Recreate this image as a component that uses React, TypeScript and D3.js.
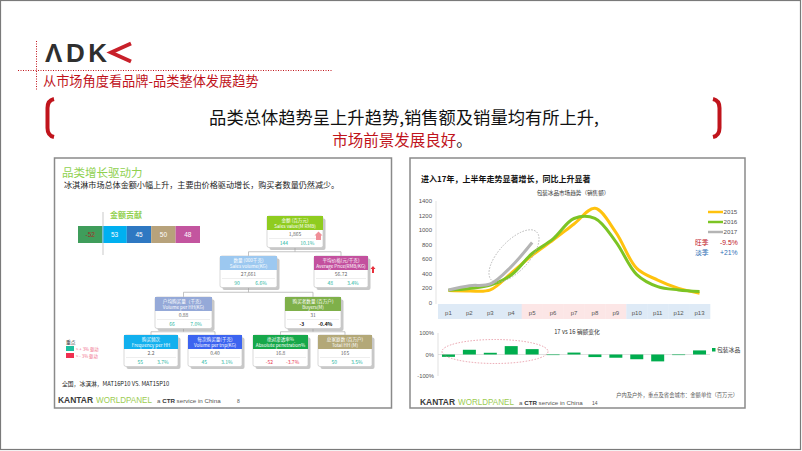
import React from 'react';
import * as d3 from 'd3';

// ---------- data ----------
const periods = ['p1','p2','p3','p4','p5','p6','p7','p8','p9','p10','p11','p12','p13'];
const season = ['淡','淡','淡','淡','旺','旺','旺','旺','旺','淡','淡','淡','淡'];
const sales2015 = [170,165,180,410,655,865,1085,1300,970,475,315,200,135];
const sales2016 = [175,200,245,385,680,880,1160,1160,840,390,225,180,158];
const sales2017 = [178,238,262,500,830];
const yTicks = [0,200,400,600,800,1000,1200,1400];
const changePct = [-11,22,8,39,25,-1,9,-12,-15,-22,-32,-2,19];
const pctTicks = [100,0,-100];
const contribLabels = ['-52','53','45','50','48'];
const contribColors = ['#3f9d5b','#00b0f0','#2e78c2','#b7a27b','#c3559f'];

type Node = { t1: string; t2: string; value: string; n1: string; n2: string; color: string; numColor: string };
const treeTop: Node = { t1: '金额 (百万元)', t2: 'Sales value(M RMB)', value: '1,865', n1: '144', n2: '10.1%', color: '#8fcc1f', numColor: '#1fb5a0' };
const treeL2: Node[] = [
  { t1: '数量 (000千克)', t2: 'Sales volume(KG)', value: '27,661', n1: '90', n2: '6.6%', color: '#9cc8f0', numColor: '#1fb5a0' },
  { t1: '平均价格(元/千克)', t2: 'Average Price(RMB/KG)', value: '56.72', n1: '48', n2: '3.4%', color: '#c3509e', numColor: '#1fb5a0' },
];
const treeL3: Node[] = [
  { t1: '户均购买量（千克）', t2: 'Volume per HH(KG)', value: '0.88', n1: '66', n2: '7.0%', color: '#95a9d8', numColor: '#1fb5a0' },
  { t1: '购买者数量 (百万户)', t2: 'Buyers(M)', value: '31', n1: '-3', n2: '-0.4%', color: '#7fb04a', numColor: '#111' },
];
const treeL4: Node[] = [
  { t1: '购买频次', t2: 'Frequency per HH', value: '2.2', n1: '55', n2: '3.7%', color: '#12b0ee', numColor: '#1fb5a0' },
  { t1: '每次购买量(千克)', t2: 'Volume per trip(KG)', value: '0.40', n1: '45', n2: '3.1%', color: '#3c64f0', numColor: '#1fb5a0' },
  { t1: '绝对渗透率%', t2: 'Absolute penetration%', value: '16.8', n1: '-52', n2: '-3.7%', color: '#16a84a', numColor: '#e8344e' },
  { t1: '总家庭数 (百万户)', t2: 'Total HH (M)', value: '165', n1: '50', n2: '3.5%', color: '#b3a878', numColor: '#1fb5a0' },
];

const F = "'Noto Sans CJK SC', 'Noto Sans', sans-serif";
const FL = "'Liberation Sans', Arial, sans-serif";
const RED = '#c0141c';

function TreeBox({ n, x, y, w }: { n: Node; x: number; y: number; w: number }) {
  const hh = 14, vr = 8.5, nr = 9;
  const h = hh + vr + nr;
  const bold = n.numColor === '#111';
  return (
    <g>
      <rect x={x + 2.5} y={y + 2.5} width={w} height={h} rx={2} fill="#9a9a9a" opacity={0.55} />
      <rect x={x} y={y} width={w} height={h} rx={2} fill="#fff" stroke="#c8c8c8" strokeWidth={0.7} />
      <rect x={x} y={y} width={w} height={hh} fill={n.color} />
      <text x={x + w / 2} y={y + 6} fontSize={4.6} fill="#fff" textAnchor="middle" fontFamily={F}>{n.t1}</text>
      <text x={x + w / 2} y={y + 11.8} fontSize={4.6} fill="#fff" textAnchor="middle" fontFamily={F}>{n.t2}</text>
      <text x={x + w / 2} y={y + hh + 6.3} fontSize={5} fill="#666" textAnchor="middle" fontFamily={F}>{n.value}</text>
      <line x1={x + 2} x2={x + w - 2} y1={y + hh + vr} y2={y + hh + vr} stroke="#ddd" strokeWidth={0.5} />
      <text x={x + w * 0.3} y={y + hh + vr + 6.3} fontSize={5} fill={n.numColor} fontWeight={bold ? 700 : 400} textAnchor="middle" fontFamily={F}>{n.n1}</text>
      <text x={x + w * 0.72} y={y + hh + vr + 6.3} fontSize={5} fill={n.numColor} fontWeight={bold ? 700 : 400} textAnchor="middle" fontFamily={F}>{n.n2}</text>
    </g>
  );
}

function Kantar({ x, y, page, px }: { x: number; y: number; page: string; px: number }) {
  return (
    <g fontFamily={FL}>
      <text x={x} y={y} fontSize={9} fontWeight={700} fill="#3a3a3a" textLength={35} lengthAdjust="spacingAndGlyphs">KANTAR</text>
      <text x={x + 38} y={y} fontSize={9} fill="#9ccc52" textLength={56} lengthAdjust="spacingAndGlyphs">WORLDPANEL</text>
      <text x={x + 99} y={y} fontSize={6.2} fill="#555">a <tspan fontWeight={700} fill="#333">CTR</tspan> service in China</text>
      <text x={px} y={y} fontSize={5} fill="#555">{page}</text>
    </g>
  );
}

export default function App() {
  // top chart
  const xb = d3.scaleBand<string>().domain(periods).range([438, 710]).padding(0);
  const cx = (i: number) => (xb(periods[i]) as number) + xb.bandwidth() / 2;
  const y = d3.scaleLinear().domain([0, 1400]).range([303, 201]);
  const line = d3.line<number>().x((_, i) => cx(i)).y((d) => y(d)).curve(d3.curveCatmullRom.alpha(0.5));
  // bottom chart
  const yp = d3.scaleLinear().domain([-100, 100]).range([376, 333]);
  // contribution bar
  const cb = d3.scaleBand<number>().domain(contribLabels.map((_, i) => i)).range([78, 200]);

  // tree layout
  const L1 = { x: 267, y: 216, w: 56 };
  const L2 = [{ x: 220, w: 57 }, { x: 314, w: 54 }];
  const L3 = [{ x: 155, w: 57 }, { x: 285, w: 56 }];
  const L4 = [{ x: 124, w: 54 }, { x: 188, w: 54 }, { x: 253, w: 55 }, { x: 318, w: 54 }];
  const y2 = 256, y3 = 297, y4 = 335, bh = 31.5;
  const mid = (b: { x: number; w: number }) => b.x + b.w / 2;
  const conn = (px: number, py: number, kids: number[], ky: number) => {
    const my = (py + ky) / 2;
    return (
      <g stroke="#aaa" strokeWidth={0.7} fill="none">
        <line x1={px} x2={px} y1={py} y2={my} />
        <line x1={Math.min(...kids)} x2={Math.max(...kids)} y1={my} y2={my} />
        {kids.map((k, i) => <line key={i} x1={k} x2={k} y1={my} y2={ky} />)}
      </g>
    );
  };

  return (
    <svg width={802} height={451} style={{ position: 'absolute', left: 0, top: 0, background: '#fff' }}>
      <rect x={0.5} y={0.5} width={800} height={449} fill="#fff" stroke="#7a7a7a" strokeWidth={1.2} />
      {/* header */}
      <line x1={36.5} x2={36.5} y1={41} y2={91} stroke={RED} strokeDasharray="1,1.5" strokeWidth={1} />
      <line x1={18} x2={332} y1={70.5} y2={70.5} stroke={RED} strokeDasharray="1,1.5" strokeWidth={1} />
      <text x={45} y={62} fontSize={26} fontWeight={700} fill="#2f2f2f" fontFamily={FL} textLength={62} lengthAdjust="spacing">ΛDK</text>
      <path d="M131,43.5 L111,52.5 L131,61.5" fill="none" stroke="#c8202a" strokeWidth={3.8} />
      <text x={43} y={86} fontSize={13.2} fill={RED} fontFamily={F}>从市场角度看品牌-品类整体发展趋势</text>
      {/* headline */}
      <path d="M54,99 Q47.5,100.5 47.5,108 L47.5,128 Q47.5,135.5 54,137" fill="none" stroke={RED} strokeWidth={4} />
      <path d="M713,99 Q719.5,100.5 719.5,108 L719.5,128 Q719.5,135.5 713,137" fill="none" stroke={RED} strokeWidth={4} />
      <text x={404} y={124} fontSize={17.3} fill="#111" textAnchor="middle" fontFamily={F}>品类总体趋势呈上升趋势,销售额及销量均有所上升,</text>
      <text x={402} y={146} fontSize={15.5} fill={RED} textAnchor="middle" fontFamily={F}>市场前景发展良好<tspan fill="#111">。</tspan></text>

      {/* ---------- left panel ---------- */}
      <rect x={54.5} y={158} width={337} height={250} fill="#fff" stroke="#8a8a8a" strokeWidth={1.5} />
      <text x={62} y={177} fontSize={11.5} fill="#8fd14f" fontFamily={F}>品类增长驱动力</text>
      <text x={64} y={188} fontSize={8.1} fill="#222" fontFamily={F}>冰淇淋市场总体金额小幅上升，主要由价格驱动增长，购买者数量仍然减少。</text>
      <text x={126} y={218} fontSize={8} fontWeight={700} fill="#92d050" textAnchor="middle" fontFamily={F}>金额贡献</text>
      {contribLabels.map((l, i) => (
        <g key={i}>
          <rect x={cb(i) as number} y={226} width={cb.bandwidth()} height={17} fill={contribColors[i]} />
          <text x={(cb(i) as number) + cb.bandwidth() / 2} y={237} fontSize={6.5} fill={i === 0 ? '#a0302a' : '#fff'} textAnchor="middle" fontFamily={FL}>{l}</text>
        </g>
      ))}
      <line x1={103} x2={103} y1={212} y2={255} stroke="#bbb" strokeWidth={0.8} />

      {conn(mid(L1), L1.y + bh, L2.map(mid), y2)}
      {conn(mid(L2[0]), y2 + bh, L3.map(mid), y3)}
      {conn(mid(L3[0]), y3 + bh, [mid(L4[0]), mid(L4[1])], y4)}
      {conn(mid(L3[1]), y3 + bh, [mid(L4[2]), mid(L4[3])], y4)}
      <TreeBox n={treeTop} x={L1.x} y={L1.y} w={L1.w} />
      <path d="M316,240 L316,235.5 L314.5,235.5 L318.5,231.5 L322.5,235.5 L321,235.5 L321,240 Z" fill="#f08f98" />
      {treeL2.map((n, i) => <TreeBox key={i} n={n} x={L2[i].x} y={y2} w={L2[i].w} />)}
      <path d="M372,273 L372,269 L370.5,269 L373,266 L375.5,269 L374,269 L374,273 Z" fill="#e8303c" />
      {treeL3.map((n, i) => <TreeBox key={i} n={n} x={L3[i].x} y={y3} w={L3[i].w} />)}
      {treeL4.map((n, i) => <TreeBox key={i} n={n} x={L4[i].x} y={y4} w={L4[i].w} />)}

      <text x={66} y={344} fontSize={4.8} fill="#333" fontFamily={F}>重点</text>
      <rect x={66} y={346} width={8} height={5} fill="#1cc0a0" />
      <text x={76} y={350.5} fontSize={4.3} fill="#f0708a" fontFamily={F}>&gt; + 3% 驱动</text>
      <rect x={66} y={353} width={8} height={5} fill="#f03050" />
      <text x={76} y={357.5} fontSize={4.3} fill="#f0708a" fontFamily={F}>&gt; - 3% 驱动</text>

      <text x={62} y={386} fontSize={5.8} fill="#222" fontFamily={F}>全国，冰淇淋，MAT16P10 VS. MAT15P10</text>
      <defs>
        <linearGradient id="gold" x1="0" x2="1" y1="0" y2="0">
          <stop offset="0" stopColor="#b8a878" />
          <stop offset="0.5" stopColor="#e0d08c" />
          <stop offset="1" stopColor="#efe6b8" />
        </linearGradient>
      </defs>
      <line x1={55} x2={391} y1={389.5} y2={389.5} stroke="url(#gold)" strokeWidth={1.6} />
      <Kantar x={58} y={403} page="8" px={237} />

      {/* ---------- right panel ---------- */}
      <rect x={410} y={158} width={335} height={250} fill="#fff" stroke="#8a8a8a" strokeWidth={1.5} />
      <text x={421} y={182} fontSize={8} fontWeight={700} fill="#111" fontFamily={F}>进入17年，上半年走势显著增长，同比上升显著</text>
      <text x={573} y={195} fontSize={5.6} fill="#333" textAnchor="middle" fontFamily={F}>包装冰品市场趋势（销售额）</text>
      {yTicks.map((t) => (
        <text key={t} x={432} y={y(t) + 2} fontSize={6} fill="#555" textAnchor="end" fontFamily={FL}>{t}</text>
      ))}
      <line x1={436} x2={436} y1={201} y2={304} stroke="#d0d0d0" strokeWidth={0.6} />
      {periods.map((p, i) => (
        <g key={p}>
          <rect x={xb(p) as number} y={304} width={xb.bandwidth() + 0.3} height={15} fill={season[i] === '旺' ? '#fce6e6' : '#deeaf6'} />
          <text x={cx(i)} y={314.5} fontSize={6} fill="#555" textAnchor="middle" fontFamily={FL}>{p}</text>
        </g>
      ))}
      <path d={line(sales2015) || ''} fill="none" stroke="#ffc20e" strokeWidth={3} />
      <path d={line(sales2016) || ''} fill="none" stroke="#7cc424" strokeWidth={3} />
      <path d={line(sales2017) || ''} fill="none" stroke="#b4b4b4" strokeWidth={3} />
      <ellipse cx={514} cy={256} rx={33} ry={15} transform="rotate(-47,514,256)" fill="none" stroke="#aaa" strokeWidth={0.8} strokeDasharray="1.5,1.5" />

      {[['2015', '#ffc20e'], ['2016', '#7cc424'], ['2017', '#b4b4b4']].map(([l, c], i) => (
        <g key={l}>
          <line x1={708} x2={723} y1={212 + i * 10} y2={212 + i * 10} stroke={c} strokeWidth={2.5} />
          <text x={723.5} y={214.3 + i * 10} fontSize={6.2} fill="#555" fontFamily={FL}>{l}</text>
        </g>
      ))}
      <text x={695} y={245} fontSize={6.8} fill={RED} fontFamily={F}>旺季</text>
      <text x={720} y={245} fontSize={6.8} fill={RED} fontFamily={FL}>-9.5%</text>
      <text x={695} y={255} fontSize={6.8} fill="#2f6fb5" fontFamily={F}>淡季</text>
      <text x={720} y={255} fontSize={6.8} fill="#2f6fb5" fontFamily={FL}>+21%</text>

      {/* bottom chart */}
      <text x={577} y={334} fontSize={5.8} fill="#333" textAnchor="middle" fontFamily={F}>17 vs 16 销额变化</text>
      {pctTicks.map((t) => (
        <text key={t} x={434} y={yp(t) + 2} fontSize={5.8} fill="#555" textAnchor="end" fontFamily={FL}>{t}%</text>
      ))}
      <line x1={438} x2={438} y1={333} y2={376} stroke="#ccc" strokeWidth={0.6} />
      <line x1={438} x2={710} y1={yp(0)} y2={yp(0)} stroke="#ccc" strokeWidth={0.6} />
      {changePct.map((v, i) => (
        <rect key={i} x={cx(i) - 6.5} y={Math.min(yp(v), yp(0))} width={13} height={Math.max(0.6, Math.abs(yp(v) - yp(0)))} fill="#00ad4e" />
      ))}
      <ellipse cx={495} cy={351.5} rx={53} ry={12} fill="none" stroke="#e07a8a" strokeWidth={0.7} strokeDasharray="1.5,1.5" />
      <rect x={712} y={348} width={3.5} height={3.5} fill="#00ad4e" />
      <text x={717} y={352} fontSize={5.8} fill="#333" fontFamily={F}>包装冰品</text>

      <line x1={411} x2={744} y1={389.5} y2={389.5} stroke="url(#gold)" strokeWidth={1.6} />
      <text x={738} y={397} fontSize={5.3} fill="#555" textAnchor="end" fontFamily={F}>户内及户外，重点及省会城市：金额单位（百万元）</text>
      <Kantar x={420} y={405} page="14" px={592} />
    </svg>
  );
}
